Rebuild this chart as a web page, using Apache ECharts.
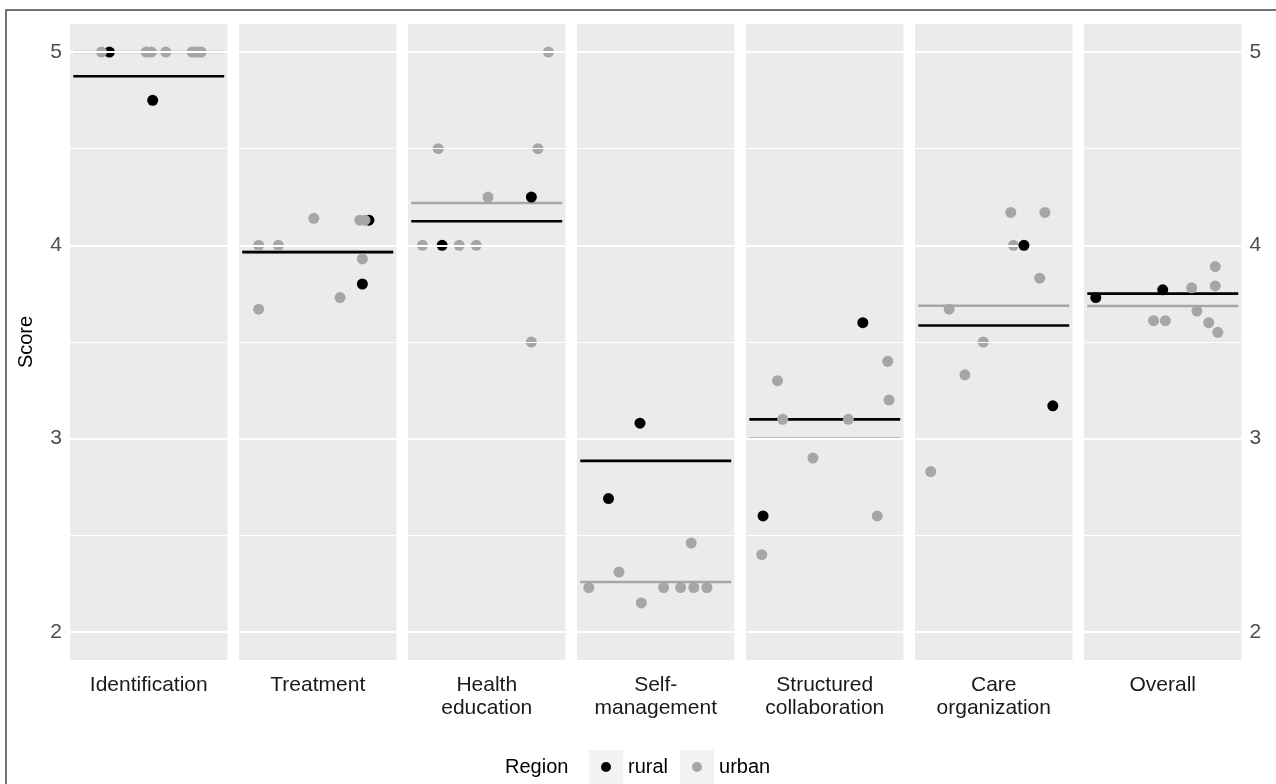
<!DOCTYPE html>
<html><head><meta charset="utf-8">
<script src="https://cdn.jsdelivr.net/npm/echarts@6/dist/echarts.min.js"></script>
<style>html,body{margin:0;padding:0;background:#fff}#c{width:1276px;height:784px}</style>
</head><body><div id="c"></div>
<script>
// ---------------- DATA ----------------
const categories = ['Identification', 'Treatment', 'Health\neducation', 'Self-\nmanagement',
  'Structured\ncollaboration', 'Care\norganization', 'Overall'];
const regions = ['rural', 'urban'];
const yMajorTicks = [2, 3, 4, 5];
const yMinorTicks = [2.5, 3.5, 4.5];
const yLimits = [1.855, 5.145];

// scores per category (same order as categories)
const rural_scores = [
  [5.00, 4.75],
  [4.13, 3.80],
  [4.25, 4.00],
  [3.08, 2.69],
  [3.60, 2.60],
  [4.00, 3.17],
  [3.73, 3.77]
];
const urban_scores = [
  [5.00, 5.00, 5.00, 5.00, 5.00, 5.00, 5.00, 5.00],
  [4.14, 4.13, 4.13, 4.00, 4.00, 3.93, 3.73, 3.67],
  [5.00, 4.50, 4.50, 4.25, 4.00, 4.00, 4.00, 3.50],
  [2.46, 2.31, 2.23, 2.23, 2.23, 2.23, 2.23, 2.15],
  [3.40, 3.30, 3.20, 3.10, 3.10, 2.90, 2.60, 2.40],
  [4.17, 4.17, 4.00, 3.83, 3.67, 3.50, 3.33, 2.83],
  [3.89, 3.78, 3.79, 3.66, 3.61, 3.61, 3.60, 3.55]
];
// horizontal jitter offsets
const rural_jitter = [
  [-0.30, 0.03],
  [0.39, 0.34],
  [0.34, -0.34],
  [-0.12, -0.36],
  [0.29, -0.47],
  [0.23, 0.45],
  [-0.51, 0.00]
];
const urban_jitter = [
  [-0.36, -0.02, 0.02, 0.13, 0.33, 0.36, 0.40, 0.38],
  [-0.03, 0.32, 0.36, -0.45, -0.30, 0.34, 0.17, -0.45],
  [0.47, -0.37, 0.39, 0.01, -0.49, -0.21, -0.08, 0.34],
  [0.27, -0.28, -0.51, 0.06, 0.19, 0.29, 0.39, -0.11],
  [0.48, -0.36, 0.49, -0.32, 0.18, -0.09, 0.40, -0.48],
  [0.13, 0.39, 0.15, 0.35, -0.34, -0.08, -0.22, -0.48],
  [0.40, 0.22, 0.40, 0.26, -0.07, 0.02, 0.35, 0.42]
];

// ---------------- STYLE / LAYOUT ----------------
const COLORS = { rural: '#000000', urban: '#A6A6A6' };
const FONT = '"Liberation Sans", Arial, sans-serif';
const PANEL_LEFT = 70, PANEL_STEP = 169, PANEL_W = 157.5, PANEL_TOP = 24, PANEL_BOTTOM = 660;
const X_HALF = 0.6, MEAN_HALF = 0.575;
const KEY = 34;

const mean = a => a.reduce((s, v) => s + v, 0) / a.length;
const zip = (xs, ys) => xs.map((x, i) => [x, ys[i]]);

const grids = [], xAxes = [], yAxes = [], series = [];
categories.forEach((cat, i) => {
  grids.push({
    left: PANEL_LEFT + PANEL_STEP * i, width: PANEL_W,
    top: PANEL_TOP, height: PANEL_BOTTOM - PANEL_TOP,
    show: true, backgroundColor: '#EBEBEB', borderWidth: 0
  });
  xAxes.push({
    gridIndex: i, type: 'value', min: -X_HALF, max: X_HALF,
    axisLine: { show: false }, axisTick: { show: false }, axisLabel: { show: false },
    splitLine: { show: false },
    name: cat, nameLocation: 'middle', nameGap: 14,
    nameTextStyle: { fontFamily: FONT, fontSize: 21, color: '#1A1A1A', lineHeight: 23, verticalAlign: 'top' }
  });
  const showAxis = (i === 0 || i === categories.length - 1);
  yAxes.push({
    gridIndex: i, type: 'value', min: yLimits[0], max: yLimits[1], splitNumber: 3,
    position: i === categories.length - 1 ? 'right' : 'left',
    axisLine: { show: false },
    axisTick: { show: showAxis, length: 4, lineStyle: { color: '#333', width: 1.5 }, customValues: yMajorTicks },
    axisLabel: {
      show: showAxis, margin: 8, fontFamily: FONT, fontSize: 21, color: '#4D4D4D',
      customValues: yMajorTicks,
      formatter: v => (Math.abs(v - Math.round(v)) < 1e-9 ? String(Math.round(v)) : '')
    },
    splitLine: { show: false },
    name: i === 0 ? 'Score' : '', nameLocation: 'middle', nameGap: 34, nameRotate: 90,
    nameTextStyle: { fontFamily: FONT, fontSize: 20, color: '#000' }
  });
  // gridlines
  series.push({
    type: 'line', xAxisIndex: i, yAxisIndex: i, data: [], z: 1, silent: true,
    markLine: {
      silent: true, symbol: ['none', 'none'], label: { show: false }, animation: false,
      data: yMajorTicks.map(v => ({ yAxis: v, lineStyle: { color: '#FFFFFF', width: 2.2, type: 'solid' } }))
        .concat(yMinorTicks.map(v => ({ yAxis: v, lineStyle: { color: '#FFFFFF', width: 1.1, type: 'solid' } })))
    }
  });
  // mean lines
  [['urban', urban_scores], ['rural', rural_scores]].forEach(([reg, sc]) => {
    const m = mean(sc[i]);
    series.push({
      type: 'line', xAxisIndex: i, yAxisIndex: i, z: 2, silent: true,
      data: [[-MEAN_HALF, m], [MEAN_HALF, m]], showSymbol: false, symbol: 'none',
      lineStyle: { color: COLORS[reg], width: 2.6 }
    });
  });
  // points
  const ruralOnTop = (i === 5);
  series.push({
    name: 'rural', type: 'scatter', xAxisIndex: i, yAxisIndex: i, z: ruralOnTop ? 5 : 3,
    symbolSize: 11, itemStyle: { color: COLORS.rural, opacity: 1 },
    data: zip(rural_jitter[i], rural_scores[i])
  });
  series.push({
    name: 'urban', type: 'scatter', xAxisIndex: i, yAxisIndex: i, z: 4,
    symbolSize: 11, itemStyle: { color: COLORS.urban, opacity: 1 },
    data: zip(urban_jitter[i], urban_scores[i])
  });
});

function keyIcon(color) {
  const h = KEY / 2;
  const svg = "<svg xmlns='http://www.w3.org/2000/svg' width='" + KEY + "' height='" + KEY + "'>" +
    "<rect width='" + KEY + "' height='" + KEY + "' fill='#F2F2F2'/>" +
    "<circle cx='" + h + "' cy='" + h + "' r='5' fill='" + color + "'/></svg>";
  return 'image://data:image/svg+xml;charset=utf-8,' + encodeURIComponent(svg);
}

const chart = echarts.init(document.getElementById('c'), null, { renderer: 'canvas' });
chart.setOption({
  animation: false,
  backgroundColor: '#FFFFFF',
  grid: grids, xAxis: xAxes, yAxis: yAxes, series: series,
  legend: {
    data: regions.map(r => ({ name: r, icon: keyIcon(COLORS[r]) })),
    left: 589, top: 767 - KEY / 2, orient: 'horizontal', padding: 0,
    itemWidth: KEY, itemHeight: KEY, itemGap: 12,
    selectedMode: false,
    textStyle: { fontFamily: FONT, fontSize: 20, color: '#000' }
  },
  graphic: [
    { type: 'polyline', silent: true, shape: { points: [[6, 784], [6, 10], [1276, 10]] },
      style: { stroke: '#444', lineWidth: 1.5, fill: null } },
    { type: 'text', silent: true, x: 505, y: 767,
      style: { text: 'Region', fontFamily: FONT, fontSize: 20, fill: '#000', verticalAlign: 'middle' } }
  ]
});
</script></body></html>
